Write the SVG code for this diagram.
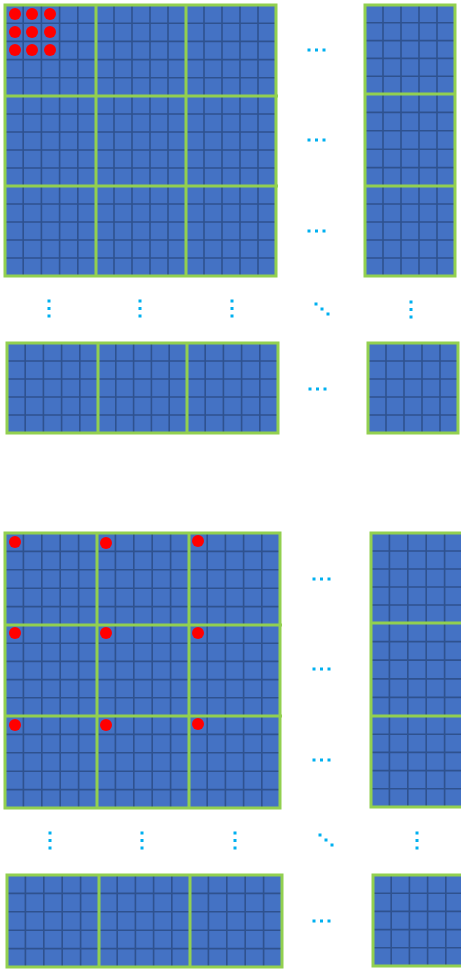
<svg xmlns="http://www.w3.org/2000/svg" xmlns:xlink="http://www.w3.org/1999/xlink" width="461" height="970" viewBox="0 0 461 970">
<style>
.g{fill:none;stroke:#92D050;stroke-width:3}
.gl{stroke:#92D050;stroke-width:3}
.d{fill:#00B0F0}
.r{fill:#FF0000}
</style>
<defs>
<symbol id="tile" viewBox="0 0 90 90" preserveAspectRatio="none">
<rect x="0" y="0" width="90" height="90" fill="#4472C4"/>
<g stroke="#2F528F" stroke-width="1.6">
<line x1="18" y1="0" x2="18" y2="90"/><line x1="36" y1="0" x2="36" y2="90"/><line x1="54" y1="0" x2="54" y2="90"/><line x1="72" y1="0" x2="72" y2="90"/>
<line x1="0" y1="18" x2="90" y2="18"/><line x1="0" y1="36" x2="90" y2="36"/><line x1="0" y1="54" x2="90" y2="54"/><line x1="0" y1="72" x2="90" y2="72"/>
</g>
</symbol>
<g id="hd"><rect x="-1.5" y="-1.5" width="3" height="3"/><rect x="6" y="-1.5" width="3" height="3"/><rect x="13.5" y="-1.5" width="3" height="3"/></g>
<g id="vd"><rect x="-1.5" y="-1.5" width="3" height="3"/><rect x="-1.5" y="6" width="3" height="3"/><rect x="-1.5" y="13.5" width="3" height="3"/></g>
<g id="dd"><rect x="-1.5" y="-1.5" width="3" height="3"/><rect x="4.5" y="3.5" width="3" height="3"/><rect x="10.5" y="8.5" width="3" height="3"/></g>
</defs>
<rect width="461" height="970" fill="#FFFFFF"/>

<!-- Top figure -->
<g id="topMain">
<use href="#tile" x="5" y="5" width="91" height="91"/><use href="#tile" x="96" y="5" width="90" height="91"/><use href="#tile" x="186" y="5" width="90" height="91"/>
<use href="#tile" x="5" y="96" width="91" height="90"/><use href="#tile" x="96" y="96" width="90" height="90"/><use href="#tile" x="186" y="96" width="90" height="90"/>
<use href="#tile" x="5" y="186" width="91" height="90"/><use href="#tile" x="96" y="186" width="90" height="90"/><use href="#tile" x="186" y="186" width="90" height="90"/>
<rect class="g" x="5" y="5" width="271" height="271"/>
<line class="gl" x1="96" y1="5" x2="96" y2="276"/><line class="gl" x1="186" y1="5" x2="186" y2="276"/>
<line class="gl" x1="5" y1="96" x2="278" y2="96"/><line class="gl" x1="5" y1="186" x2="278" y2="186"/>
<g class="r">
<circle cx="15" cy="14" r="6"/><circle cx="32" cy="14" r="6"/><circle cx="50" cy="14" r="6"/>
<circle cx="15" cy="32" r="6"/><circle cx="32" cy="32" r="6"/><circle cx="50" cy="32" r="6"/>
<circle cx="15" cy="50" r="6"/><circle cx="32" cy="50" r="6"/><circle cx="50" cy="50" r="6"/>
</g>
</g>
<g id="topRight">
<use href="#tile" x="365" y="5" width="90" height="89"/><use href="#tile" x="365" y="94" width="90" height="92"/><use href="#tile" x="365" y="186" width="90" height="90"/>
<rect class="g" x="365" y="5" width="90" height="271"/>
<line class="gl" x1="365" y1="94" x2="455" y2="94"/><line class="gl" x1="365" y1="186" x2="455" y2="186"/>
</g>
<g id="topBottom">
<use href="#tile" x="7" y="343" width="91" height="90"/><use href="#tile" x="98" y="343" width="89" height="90"/><use href="#tile" x="187" y="343" width="91" height="90"/>
<rect class="g" x="7" y="343" width="271" height="90"/>
<line class="gl" x1="98" y1="343" x2="98" y2="433"/><line class="gl" x1="187" y1="343" x2="187" y2="433"/>
</g>
<g id="topCorner">
<use href="#tile" x="368" y="343" width="90" height="90"/>
<rect class="g" x="368" y="343" width="90" height="90"/>
</g>

<!-- Bottom figure -->
<g id="botMain">
<use href="#tile" x="5" y="533" width="92" height="92"/><use href="#tile" x="97" y="533" width="92" height="92"/><use href="#tile" x="189" y="533" width="91" height="92"/>
<use href="#tile" x="5" y="625" width="92" height="91"/><use href="#tile" x="97" y="625" width="92" height="91"/><use href="#tile" x="189" y="625" width="91" height="91"/>
<use href="#tile" x="5" y="716" width="92" height="92"/><use href="#tile" x="97" y="716" width="92" height="92"/><use href="#tile" x="189" y="716" width="91" height="92"/>
<rect class="g" x="5" y="533" width="275" height="275"/>
<line class="gl" x1="97" y1="533" x2="97" y2="808"/><line class="gl" x1="189" y1="533" x2="189" y2="808"/>
<line class="gl" x1="5" y1="625" x2="282" y2="625"/><line class="gl" x1="5" y1="716" x2="282" y2="716"/>
<g class="r">
<circle cx="15" cy="542" r="6"/><circle cx="106" cy="543" r="6"/><circle cx="198" cy="541" r="6"/>
<circle cx="15" cy="633" r="6"/><circle cx="106" cy="633" r="6"/><circle cx="198" cy="633" r="6"/>
<circle cx="15" cy="725" r="6"/><circle cx="106" cy="725" r="6"/><circle cx="198" cy="724" r="6"/>
</g>
</g>
<g id="botRight">
<use href="#tile" x="371" y="533" width="92" height="90"/><use href="#tile" x="371" y="623" width="92" height="93"/><use href="#tile" x="371" y="716" width="92" height="91"/>
<rect class="g" x="371" y="533" width="92" height="274"/>
<line class="gl" x1="371" y1="623" x2="463" y2="623"/><line class="gl" x1="371" y1="716" x2="463" y2="716"/>
</g>
<g id="botBottom">
<use href="#tile" x="7" y="875" width="92" height="92"/><use href="#tile" x="99" y="875" width="91" height="92"/><use href="#tile" x="190" y="875" width="92" height="92"/>
<rect class="g" x="7" y="875" width="275" height="92"/>
<line class="gl" x1="99" y1="875" x2="99" y2="967"/><line class="gl" x1="190" y1="875" x2="190" y2="967"/>
</g>
<g id="botCorner">
<use href="#tile" x="373" y="875" width="91" height="91"/>
<rect class="g" x="373" y="875" width="91" height="91"/>
</g>

<!-- Ellipsis dots -->
<g id="connectors" class="d">
<use href="#hd" x="309" y="50"/><use href="#hd" x="309" y="140"/><use href="#hd" x="309" y="231"/><use href="#hd" x="310" y="389"/>
<use href="#vd" x="49" y="301"/><use href="#vd" x="140" y="301"/><use href="#vd" x="232" y="301"/><use href="#vd" x="411" y="302"/>
<use href="#dd" x="316" y="304"/>
<use href="#hd" x="314" y="579"/><use href="#hd" x="314" y="669"/><use href="#hd" x="314" y="760"/><use href="#hd" x="314" y="921"/>
<use href="#vd" x="50" y="833"/><use href="#vd" x="142" y="833"/><use href="#vd" x="235" y="833"/><use href="#vd" x="417" y="833"/>
<use href="#dd" x="320" y="835"/>
</g>
</svg>
